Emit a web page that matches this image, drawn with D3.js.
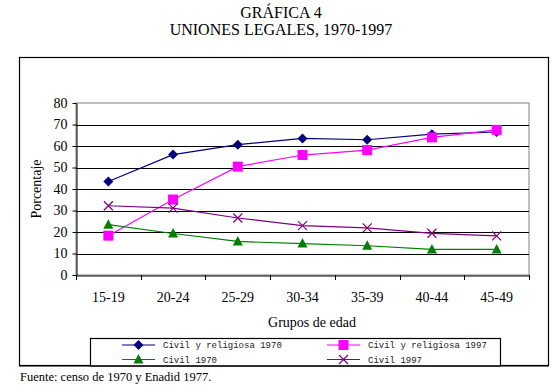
<!DOCTYPE html>
<html>
<head>
<meta charset="utf-8">
<script src="https://cdn.jsdelivr.net/npm/d3@7"></script>
<style>
  body { margin: 0; background: #fff; }
</style>
</head>
<body>
<svg id="chart" width="560" height="388"></svg>
<script>
const groups = ["15-19", "20-24", "25-29", "30-34", "35-39", "40-44", "45-49"];
const civilReligiosa1970 = [43.5, 56, 60.6, 63.5, 62.9, 65.5, 66.5];
const civilReligiosa1997 = [18.3, 35.1, 50.4, 55.8, 58.1, 64, 67.5];
const civil1970 = [23.4, 19.3, 15.6, 14.6, 13.6, 11.9, 11.9];
const civil1997 = [32.2, 31.1, 26.5, 23, 21.9, 19.4, 18.2];
const yTicks = [0, 10, 20, 30, 40, 50, 60, 70, 80];

const series = [
  { name: "Civil y religiosa 1970", values: civilReligiosa1970, color: "#000080", shape: "diamond" },
  { name: "Civil y religiosa 1997", values: civilReligiosa1997, color: "#ff00ff", shape: "square" },
  { name: "Civil 1970", values: civil1970, color: "#008000", shape: "triangle" },
  { name: "Civil 1997", values: civil1997, color: "#800080", shape: "cross" }
];

const serif = "'Liberation Serif', 'Times New Roman', serif";
const mono = "'Liberation Mono', 'Courier New', monospace";

const svg = d3.select("#chart");
const plotLeft = 76, plotRight = 529, plotTop = 103, plotBottom = 275;

// titles
svg.append("text").attr("x", 281).attr("y", 18).attr("text-anchor", "middle")
  .style("font-family", serif).style("font-size", "16px").text("GRÁFICA 4");
svg.append("text").attr("x", 281).attr("y", 35).attr("text-anchor", "middle")
  .style("font-family", serif).style("font-size", "16px").text("UNIONES LEGALES, 1970-1997");

// outer frame
svg.append("rect").attr("x", 19.5).attr("y", 57.5).attr("width", 529).attr("height", 308)
  .attr("fill", "none").attr("stroke", "#000").attr("stroke-width", 1.2);

const x = d3.scaleBand().domain(groups).range([plotLeft, plotRight]);
const y = d3.scaleLinear().domain([0, 80]).range([plotBottom, plotTop]);

// plot area border (gray)
svg.append("rect").attr("x", plotLeft).attr("y", plotTop)
  .attr("width", plotRight - plotLeft).attr("height", plotBottom - plotTop)
  .attr("fill", "none").attr("stroke", "#808080").attr("stroke-width", 1);

// gridlines
svg.append("g").selectAll("line").data(yTicks.filter(d => d > 0 && d < 80)).join("line")
  .attr("x1", plotLeft).attr("x2", plotRight)
  .attr("y1", d => Math.round(y(d)) + 0.5).attr("y2", d => Math.round(y(d)) + 0.5)
  .attr("stroke", "#000").attr("stroke-width", 1);

// y axis
const yAxis = svg.append("g").attr("transform", `translate(${plotLeft + 0.5},0)`)
  .call(d3.axisLeft(y).tickValues(yTicks).tickSize(4).tickPadding(5).tickSizeOuter(0));
yAxis.select(".domain").attr("stroke", "#000");
yAxis.selectAll("text").style("font-family", serif).style("font-size", "14px").attr("fill", "#000");

// x axis
const xAxis = svg.append("g").attr("transform", `translate(0,${plotBottom + 0.5})`)
  .call(d3.axisBottom(x).tickSize(0).tickPadding(17));
xAxis.select(".domain").attr("stroke", "#000");
xAxis.selectAll("text").style("font-family", serif).style("font-size", "14px").attr("fill", "#000");
svg.append("g").selectAll("line").data(groups.concat(["end"])).join("line")
  .attr("x1", (d, i) => Math.round(plotLeft + i * x.bandwidth()) + 0.5)
  .attr("x2", (d, i) => Math.round(plotLeft + i * x.bandwidth()) + 0.5)
  .attr("y1", plotBottom).attr("y2", plotBottom + 5)
  .attr("stroke", "#000");

// axis titles
svg.append("text").attr("transform", "translate(41,189) rotate(-90)").attr("text-anchor", "middle")
  .style("font-family", serif).style("font-size", "14px").text("Porcentaje");
svg.append("text").attr("x", 312).attr("y", 327).attr("text-anchor", "middle")
  .style("font-family", serif).style("font-size", "14px").text("Grupos de edad");

const cx = g => x(g) + x.bandwidth() / 2;

function marker(sel, shape, color) {
  if (shape === "diamond") {
    sel.append("path").attr("d", "M0,-5L5,0L0,5L-5,0Z").attr("fill", color);
  } else if (shape === "square") {
    sel.append("rect").attr("x", -5).attr("y", -5).attr("width", 10).attr("height", 10).attr("fill", color);
  } else if (shape === "triangle") {
    sel.append("path").attr("d", "M0,-5.5L5,4L-5,4Z").attr("fill", color);
  } else {
    sel.append("path").attr("d", "M-4.5,-4.5L4.5,4.5M-4.5,4.5L4.5,-4.5")
      .attr("stroke", color).attr("stroke-width", 1.2).attr("fill", "none");
  }
}

const line = d3.line().x((d, i) => cx(groups[i])).y(d => y(d));

series.forEach(s => {
  svg.append("path").datum(s.values).attr("d", line)
    .attr("fill", "none").attr("stroke", s.color).attr("stroke-width", 1.2);
});
series.forEach(s => {
  svg.append("g").selectAll("g").data(s.values).join("g")
    .attr("transform", (d, i) => `translate(${cx(groups[i])},${y(d)})`)
    .each(function () { marker(d3.select(this), s.shape, s.color); });
});

// legend
svg.append("rect").attr("x", 90.5).attr("y", 338.5).attr("width", 410).attr("height", 27.5)
  .attr("fill", "#fff").attr("stroke", "#000").attr("stroke-width", 1.2);
const legendPos = [[122, 345], [327, 345], [122, 359.5], [327, 359.5]];
series.forEach((s, i) => {
  const [lx, ly] = legendPos[i];
  const g = svg.append("g").attr("transform", `translate(${lx},${ly})`);
  g.append("line").attr("x1", 0).attr("x2", 33).attr("y1", 0).attr("y2", 0)
    .attr("stroke", s.color).attr("stroke-width", 1.2);
  marker(g.append("g").attr("transform", "translate(16.5,0)"), s.shape, s.color);
  g.append("text").attr("x", 41).attr("y", 3)
    .style("font-family", mono).style("font-size", "9px").attr("fill", "#222").text(s.name);
});

// redraw bottom frame line over legend
svg.append("line").attr("x1", 19).attr("x2", 549).attr("y1", 366).attr("y2", 366)
  .attr("stroke", "#000").attr("stroke-width", 1.2);

// source
svg.append("text").attr("x", 20).attr("y", 381)
  .style("font-family", serif).style("font-size", "12.5px")
  .text("Fuente: censo de 1970 y Enadid 1977.");
</script>
</body>
</html>
